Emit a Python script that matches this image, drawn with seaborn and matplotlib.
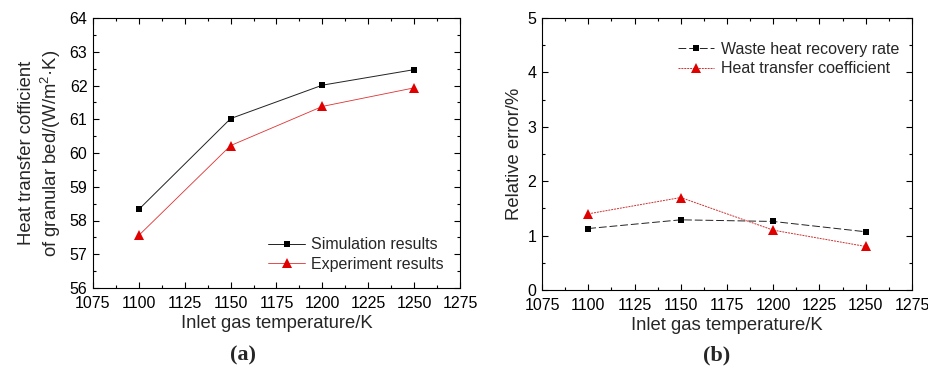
import matplotlib
matplotlib.use("Agg")
import matplotlib.pyplot as plt
import seaborn as sns
import pandas as pd
from matplotlib.ticker import MultipleLocator, AutoMinorLocator

temps = [1100, 1150, 1200, 1250]
sim_results = [58.33, 61.02, 62.01, 62.47]
exp_results = [57.56, 60.22, 61.38, 61.93]
err_waste = [1.13, 1.29, 1.26, 1.07]
err_htc = [1.40, 1.70, 1.10, 0.80]

sns.set_theme(style="white")
plt.rcParams['font.family'] = ['Liberation Sans', 'DejaVu Sans']
plt.rcParams['mathtext.fontset'] = 'custom'
plt.rcParams['mathtext.rm'] = 'Liberation Sans'

fig = plt.figure(figsize=(9.29, 3.68), dpi=100)
ax1 = fig.add_axes([93/929, 1-288/368, (460-93)/929, (288-18)/368])
ax2 = fig.add_axes([542/929, 1-290/368, (912-542)/929, (290-18)/368])

dfa = pd.DataFrame({"T": temps, "sim": sim_results, "exp": exp_results})
dfb = pd.DataFrame({"T": temps, "w": err_waste, "h": err_htc})

sns.lineplot(data=dfa, x="T", y="sim", ax=ax1, color="#222222", lw=0.7,
             marker="s", markersize=5, markeredgewidth=0, markerfacecolor="black",
             label="Simulation results")
sns.lineplot(data=dfa, x="T", y="exp", ax=ax1, color="#e03030", lw=0.6,
             marker="^", markersize=6.5, markeredgewidth=0, markerfacecolor="#e00000",
             label="Experiment results")
sns.lineplot(data=dfb, x="T", y="w", ax=ax2, color="#222222", lw=0.7, ls=(0, (8, 3)),
             marker="s", markersize=5, markeredgewidth=0, markerfacecolor="black",
             label="Waste heat recovery rate")
sns.lineplot(data=dfb, x="T", y="h", ax=ax2, color="#d03030", lw=0.7, ls=(0, (2, 1)),
             marker="^", markersize=6.5, markeredgewidth=0, markerfacecolor="#e00000",
             label="Heat transfer coefficient")

for ax in (ax1, ax2):
    ax.set_xlim(1075, 1275)
    ax.xaxis.set_major_locator(MultipleLocator(25))
    ax.xaxis.set_minor_locator(AutoMinorLocator(2))
    ax.yaxis.set_minor_locator(AutoMinorLocator(2))
    ax.tick_params(which="both", direction="in", top=True, right=True,
                   bottom=True, left=True, labelsize=11.5, colors="black")
    ax.tick_params(axis="x", pad=6)
    ax.tick_params(axis="y", pad=4)
    ax.tick_params(which="major", length=4, width=0.8)
    ax.tick_params(which="minor", length=2, width=0.8)
    for s in ax.spines.values():
        s.set_color("black")
        s.set_linewidth(0.8)
    ax.set_xlabel("Inlet gas temperature/K", fontsize=13.3, labelpad=3)

ax1.set_ylim(56, 64)
ax1.yaxis.set_major_locator(MultipleLocator(1))
ax1.set_ylabel("Heat transfer cofficient\nof granular bed/(W/m$^{2}$·K)", fontsize=13.3, labelpad=5)
ax2.set_ylim(0, 5)
ax2.yaxis.set_major_locator(MultipleLocator(1))
ax2.set_ylabel("Relative error/%", fontsize=13.3, labelpad=3)

ax1.legend(loc="lower right", frameon=False, fontsize=11.5, handlelength=2.3,
           borderaxespad=0.6, labelspacing=0.3, handletextpad=0.4)
ax2.legend(loc="upper right", frameon=False, fontsize=11.5, handlelength=2.3,
           bbox_to_anchor=(1.0, 0.96),
           borderaxespad=0.4, labelspacing=0.3, handletextpad=0.4)

fig.text(243/929, 1-355/368, "(a)", ha="center", va="center",
         fontsize=16, fontweight="bold", family="Liberation Serif")
fig.text(717/929, 1-355/368, "(b)", ha="center", va="center",
         fontsize=16, fontweight="bold", family="Liberation Serif")

fig.savefig("out.png", dpi=100)
